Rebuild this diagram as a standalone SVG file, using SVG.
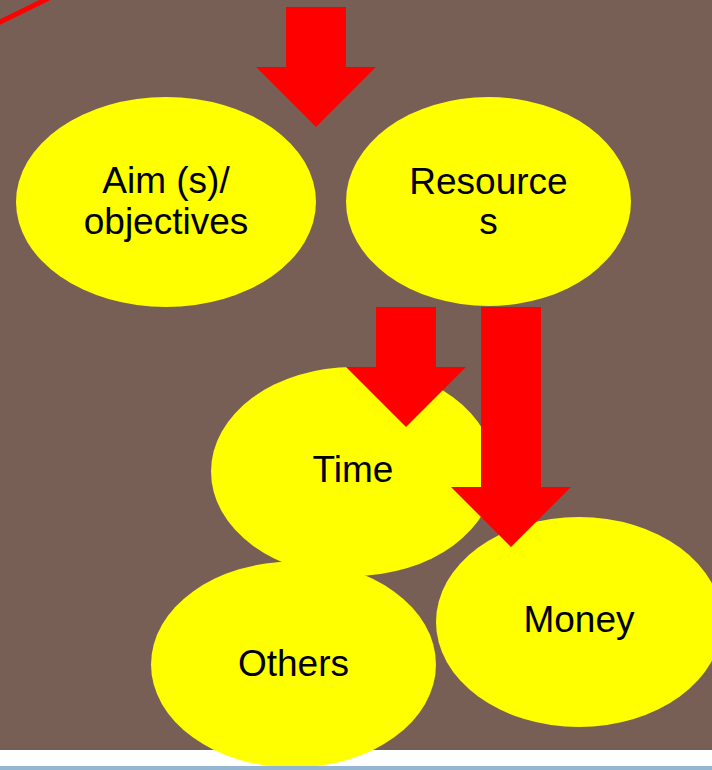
<svg xmlns="http://www.w3.org/2000/svg" width="712" height="770" viewBox="0 0 712 770">
<style>
.node{fill:#FFFF00;stroke:none}
.lbl{font-family:"Liberation Sans",Arial,sans-serif;font-size:37px;fill:#000;text-anchor:middle}
.arrow{fill:#FF0000;stroke:none}
</style>
<rect x="0" y="0" width="712" height="750" fill="#785F56"/>
<rect x="0" y="750" width="712" height="20" fill="#FFFFFF"/>
<line x1="-20" y1="31.8" x2="70" y2="-12.2" stroke="#FF0000" stroke-width="5"/>
<g id="aim"><ellipse class="node" cx="166" cy="202" rx="150" ry="105"/><text class="lbl" x="166" y="193">Aim (s)/</text><text class="lbl" x="166" y="234">objectives</text></g>
<g id="resources"><ellipse class="node" cx="488.5" cy="201.5" rx="142.5" ry="104.5"/><text class="lbl" x="488.5" y="194">Resource</text><text class="lbl" x="488.5" y="234">s</text></g>
<g id="time"><ellipse class="node" cx="353" cy="471.5" rx="142" ry="104.5"/><text class="lbl" x="353" y="482">Time</text></g>
<g id="money"><ellipse class="node" cx="579" cy="622" rx="143" ry="105"/><text class="lbl" x="579" y="632">Money</text></g>
<g id="others"><ellipse class="node" cx="293.5" cy="664.5" rx="142.5" ry="103"/><text class="lbl" x="293.5" y="676">Others</text></g>
<g id="connectors">
<polygon class="arrow" points="286,7 346,7 346,67 376,67 316,127 256,67 286,67"/>
<polygon class="arrow" points="376,307 436,307 436,367 466,367 406,427 346,367 376,367"/>
<polygon class="arrow" points="481,307 541,307 541,487 571,487 511,547 451,487 481,487"/>
</g>
<rect x="0" y="766" width="712" height="4" fill="#94B6D2"/>
</svg>
